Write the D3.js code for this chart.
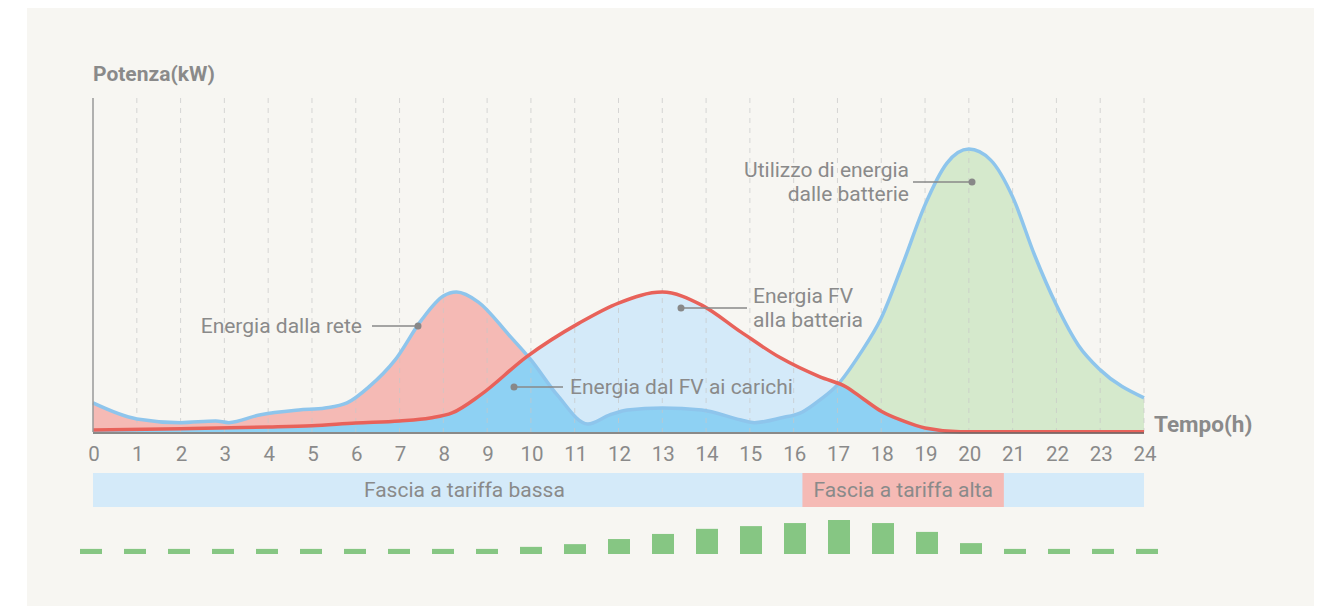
<!DOCTYPE html>
<html>
<head>
<meta charset="utf-8">
<script src="https://cdn.jsdelivr.net/npm/d3@7"></script>
<style>
  html, body { margin: 0; padding: 0; background: #fff; }
  svg { display: block; font-family: Roboto, "Open Sans", sans-serif; }
</style>
</head>
<body>
<svg id="chart" width="1328" height="606"></svg>
<script>
'use strict';

// ore di riferimento per l'asse
var hourTicks = d3.range(0, 25);

// curva dei carichi (kW)
var loadHours  = [0, 1, 2, 2.8, 3.1, 3.8, 4.7, 5.3, 5.8, 6.3, 6.9, 7.5, 8, 8.3, 8.8, 9.5, 10, 10.6, 11.3, 11.8, 12.2, 13, 13.9, 14.8, 15.1, 15.7, 16.2, 16.6, 17, 17.5, 18, 18.5, 19, 19.5, 20, 20.5, 21, 21.5, 22, 22.5, 23, 24];
var loadValues = [0.87, 0.39, 0.28, 0.33, 0.28, 0.51, 0.66, 0.72, 0.87, 1.35, 2.16, 3.35, 4.07, 4.19, 3.89, 2.90, 2.16, 1.11, 0.24, 0.51, 0.66, 0.72, 0.66, 0.36, 0.28, 0.42, 0.60, 0.96, 1.41, 2.31, 3.41, 5.06, 6.80, 8.05, 8.47, 8.14, 7.04, 5.30, 3.80, 2.60, 1.86, 1.02];

// produzione fotovoltaica (kW)
var pvHours  = [0, 2, 4, 5, 6, 7, 7.7, 8.2, 8.85, 9.9, 11.1, 12, 13, 13.9, 14.8, 15.7, 16.6, 17.2, 17.6, 18, 18.5, 19, 19.8, 24];
var pvValues = [0.06, 0.10, 0.15, 0.19, 0.27, 0.33, 0.42, 0.57, 1.11, 2.25, 3.26, 3.86, 4.19, 3.80, 2.99, 2.22, 1.65, 1.35, 0.98, 0.62, 0.33, 0.12, 0.01, 0.01];

// fasce tariffarie
var tariffBands = [
    {from: 0, to: 24, label: 'Fascia a tariffa bassa', labelAt: 8.48, color: '#d4eaf9'},
    {from: 16.2, to: 20.8, label: 'Fascia a tariffa alta', labelAt: 18.5, color: '#f5bab5'}
];

// barre orarie in basso
var barValues = [1.5, 1.5, 1.5, 1.5, 1.5, 1.5, 1.5, 1.5, 1.5, 1.5, 2.1, 2.9, 4.4, 5.9, 7.4, 8.2, 9.1, 10, 9.1, 6.5, 3.2, 1.5, 1.5, 1.5, 1.5];

// etichette
var annotations = [
    {lines: ['Energia dalla rete'], dotX: 418, dotY: 326, lineTo: 372, textX: 362, anchor: 'end'},
    {lines: ['Energia dal FV ai carichi'], dotX: 514, dotY: 387, lineTo: 563, textX: 570, anchor: 'start'},
    {lines: ['Energia FV', 'alla batteria'], dotX: 681, dotY: 308, lineTo: 747, textX: 753, anchor: 'start'},
    {lines: ['Utilizzo di energia', 'dalle batterie'], dotX: 972, dotY: 182, lineTo: 913, textX: 909, anchor: 'end'}
];

var svg = d3.select('#chart');
var textColor = '#8a8a8a';

svg.append('rect')
    .attr('x', 27).attr('y', 8)
    .attr('width', 1287).attr('height', 598)
    .attr('fill', '#f7f6f2');

var x = d3.scaleLinear().domain([0, 24]).range([93, 1144]);
var y = d3.scaleLinear().domain([0, 10]).range([432, 98]);

var loadPts = loadHours.map(function(h, i) { return [h, loadValues[i]]; });
var pvPts = pvHours.map(function(h, i) { return [h, pvValues[i]]; });

var area = d3.area()
    .x(function(d) { return x(d[0]); })
    .y0(y(0))
    .y1(function(d) { return y(d[1]); })
    .curve(d3.curveMonotoneX);

var line = d3.line()
    .x(function(d) { return x(d[0]); })
    .y(function(d) { return y(d[1]); })
    .curve(d3.curveMonotoneX);

var defs = svg.append('defs');
defs.append('clipPath').attr('id', 'clip-pv')
    .append('path').attr('d', area(pvPts));
defs.append('clipPath').attr('id', 'clip-left')
    .append('rect').attr('x', 0).attr('y', 0).attr('width', x(13)).attr('height', 606);
defs.append('clipPath').attr('id', 'clip-right')
    .append('rect').attr('x', x(13)).attr('y', 0).attr('width', 1328).attr('height', 606);

var g = svg.append('g');

// eccesso FV -> batteria
g.append('path').attr('d', area(pvPts)).attr('fill', '#d4eaf9');
// prelievo da rete e da batteria
g.append('path').attr('d', area(loadPts)).attr('fill', '#f5bab5').attr('clip-path', 'url(#clip-left)');
g.append('path').attr('d', area(loadPts)).attr('fill', '#d5e9cc').attr('clip-path', 'url(#clip-right)');
// FV ai carichi = min(carichi, FV)
g.append('path').attr('d', area(loadPts)).attr('fill', '#8ed1f3').attr('clip-path', 'url(#clip-pv)');

// griglia verticale
g.selectAll('line.grid').data(hourTicks.slice(1))
    .enter().append('line')
    .attr('class', 'grid')
    .attr('x1', function(d) { return x(d); })
    .attr('x2', function(d) { return x(d); })
    .attr('y1', 98).attr('y2', 432)
    .attr('stroke', '#c8c8c8')
    .attr('stroke-opacity', 0.7)
    .attr('stroke-dasharray', '5,5');

g.append('path').attr('d', line(loadPts))
    .attr('fill', 'none').attr('stroke', '#8ec5ec').attr('stroke-width', 3.5);
g.append('path').attr('d', line(pvPts))
    .attr('fill', 'none').attr('stroke', '#e8625a').attr('stroke-width', 3.5);

// assi
g.append('line').attr('x1', 93).attr('x2', 93).attr('y1', 98).attr('y2', 432)
    .attr('stroke', '#999').attr('stroke-width', 1.5);
g.append('line').attr('x1', 93).attr('x2', 1144).attr('y1', 433).attr('y2', 433)
    .attr('stroke', '#666').attr('stroke-width', 1.5);

g.selectAll('text.tick').data(hourTicks)
    .enter().append('text')
    .attr('class', 'tick')
    .attr('x', function(d) { return x(d) + 1; })
    .attr('y', 461)
    .attr('text-anchor', 'middle')
    .attr('font-size', 20.5)
    .attr('fill', textColor)
    .text(function(d) { return d; });

svg.append('text').attr('x', 93).attr('y', 81)
    .attr('font-size', 21).attr('font-weight', 700).attr('fill', textColor)
    .text('Potenza(kW)');
svg.append('text').attr('x', 1154).attr('y', 432)
    .attr('font-size', 22.5).attr('font-weight', 700).attr('fill', textColor)
    .text('Tempo(h)');

// fasce
var bands = svg.selectAll('g.band').data(tariffBands).enter().append('g').attr('class', 'band');
bands.append('rect')
    .attr('x', function(d) { return x(d.from); })
    .attr('width', function(d) { return x(d.to) - x(d.from); })
    .attr('y', 473).attr('height', 34)
    .attr('fill', function(d) { return d.color; });
bands.append('text')
    .attr('x', function(d) { return x(d.labelAt); })
    .attr('y', 497)
    .attr('text-anchor', 'middle')
    .attr('font-size', 21)
    .attr('fill', textColor)
    .text(function(d) { return d.label; });

// barre
var xb = d3.scaleBand().domain(hourTicks).range([69, 1169]).paddingInner(0.5).paddingOuter(0.25);
var yb = d3.scaleLinear().domain([0, 10]).range([554, 520]);
svg.selectAll('rect.bar').data(barValues)
    .enter().append('rect')
    .attr('class', 'bar')
    .attr('x', function(d, i) { return xb(i); })
    .attr('width', xb.bandwidth())
    .attr('y', function(d) { return yb(d); })
    .attr('height', function(d) { return yb(0) - yb(d); })
    .attr('fill', '#86c683');

// annotazioni
var ann = svg.selectAll('g.ann').data(annotations).enter().append('g').attr('class', 'ann');
ann.append('line')
    .attr('x1', function(d) { return d.dotX; })
    .attr('x2', function(d) { return d.lineTo; })
    .attr('y1', function(d) { return d.dotY; })
    .attr('y2', function(d) { return d.dotY; })
    .attr('stroke', '#888').attr('stroke-width', 1.5);
ann.append('circle')
    .attr('cx', function(d) { return d.dotX; })
    .attr('cy', function(d) { return d.dotY; })
    .attr('r', 3.5).attr('fill', '#888');
ann.each(function(d) {
    var n = d.lines.length;
    var t = d3.select(this).append('text')
        .attr('text-anchor', d.anchor)
        .attr('font-size', 21)
        .attr('fill', textColor);
    d.lines.forEach(function(s, i) {
        t.append('tspan')
            .attr('x', d.textX)
            .attr('y', d.dotY + 7 + (i - (n - 1) / 2) * 24.5)
            .text(s);
    });
});
</script>
</body>
</html>
